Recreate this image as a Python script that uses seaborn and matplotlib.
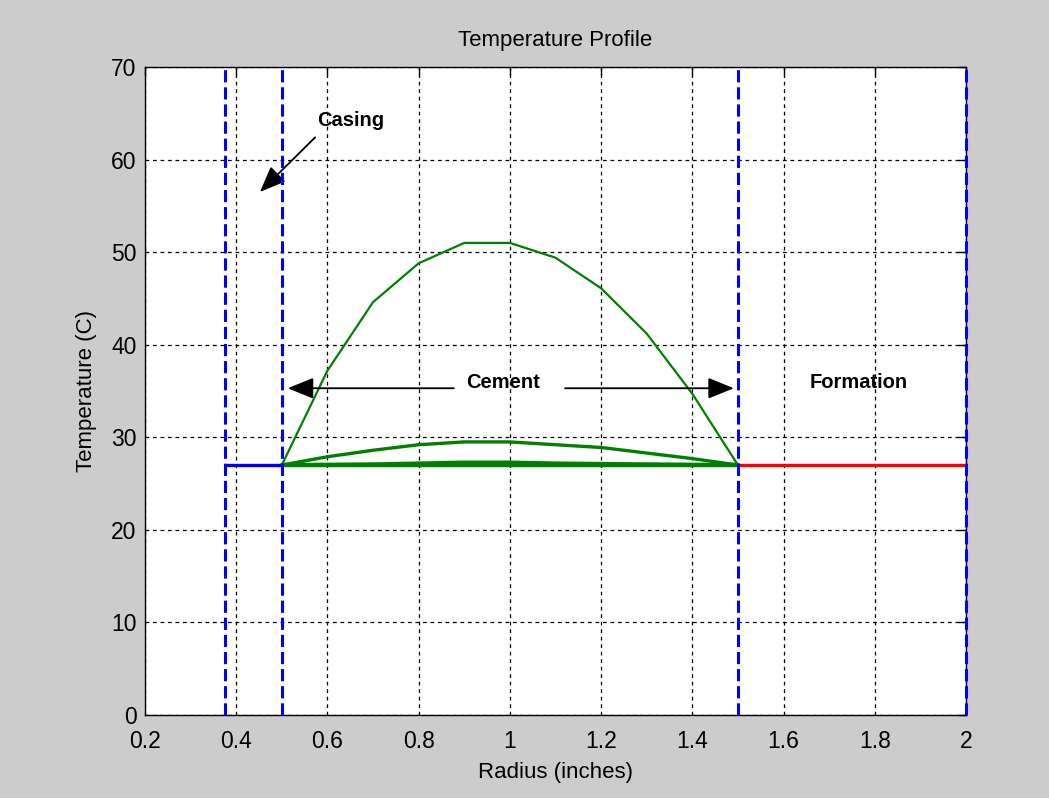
import numpy as np
import pandas as pd
import matplotlib
matplotlib.use("Agg")
import matplotlib.pyplot as plt
import seaborn as sns

# ---- data ----
radius_cement = [0.5, 0.6, 0.7, 0.8, 0.9, 1.0, 1.1, 1.2, 1.3, 1.4, 1.5]
temp_high = [27.0, 37.2, 44.6, 48.8, 51.0, 51.0, 49.4, 46.1, 41.2, 34.7, 27.0]
temp_mid = [27.0, 27.9, 28.6, 29.2, 29.5, 29.5, 29.2, 28.9, 28.3, 27.7, 27.0]
temp_low = [27.0, 27.05, 27.1, 27.2, 27.3, 27.3, 27.2, 27.15, 27.1, 27.05, 27.0]
temp_base = [27.0] * len(radius_cement)

radius_casing = [0.375, 0.5]
temp_casing = [27.0, 27.0]
radius_formation = [1.5, 2.0]
temp_formation = [27.0, 27.0]

boundaries = [0.375, 0.5, 1.5, 2.0]

xticks = [0.2, 0.4, 0.6, 0.8, 1.0, 1.2, 1.4, 1.6, 1.8, 2.0]
xticklabels = ["0.2", "0.4", "0.6", "0.8", "1", "1.2", "1.4", "1.6", "1.8", "2"]
yticks = [0, 10, 20, 30, 40, 50, 60, 70]

title = "Temperature Profile"
xlabel = "Radius (inches)"
ylabel = "Temperature (C)"

# ---- style ----
sns.set_style("white")
plt.rcParams["font.family"] = ["Liberation Sans", "DejaVu Sans"]
plt.rcParams["text.color"] = "black"
plt.rcParams["axes.labelcolor"] = "black"

fig = plt.figure(figsize=(10.49, 7.98), dpi=100, facecolor="#cccccc")
ax = fig.add_axes([0.1382, 0.1040, 0.9209 - 0.1382, 0.9160 - 0.1040])
ax.set_facecolor("white")

green = "#008000"
for vals, lw in [(temp_base, 3.2), (temp_low, 2.6), (temp_mid, 2.4), (temp_high, 1.6)]:
    sns.lineplot(x=radius_cement, y=vals, ax=ax, color=green, lw=lw, estimator=None, sort=False)

sns.lineplot(x=radius_casing, y=temp_casing, ax=ax, color="#0000ff", lw=2.4, estimator=None)
sns.lineplot(x=radius_formation, y=temp_formation, ax=ax, color="#ff0000", lw=2.4, estimator=None)

for b in boundaries:
    ax.axvline(b, color="#0000ff", lw=2.2, linestyle=(0, (4, 1.6)), zorder=5, clip_on=False)

ax.set_xlim(0.2, 2.0)
ax.set_ylim(0, 70)
ax.set_xticks(xticks)
ax.set_xticklabels(xticklabels)
ax.set_yticks(yticks)
ax.grid(True, color="black", lw=0.9, linestyle=(0, (3, 3)))
ax.set_axisbelow(True)
ax.tick_params(direction="in", length=6, width=1, top=True, right=True,
               labelsize=16.5, colors="black")
ax.tick_params(axis="x", pad=11)
ax.tick_params(axis="y", pad=6)
for s in ax.spines.values():
    s.set_visible(True)
    s.set_color("black")
    s.set_linewidth(1.0)

ax.set_title(title, fontsize=16, pad=15, color="black")
ax.set_xlabel(xlabel, fontsize=16, labelpad=6, color="black")
ax.set_ylabel(ylabel, fontsize=16, labelpad=10, color="black")

# annotations
arrowprops = dict(arrowstyle="-|>,head_length=1.6,head_width=0.65", color="black", lw=1.3,
                  shrinkA=0, shrinkB=0)
ax.text(0.652, 64.2, "Casing", fontsize=14.5, fontweight="bold", ha="center", va="center", color="black")
ax.annotate("", xy=(0.452, 56.5), xytext=(0.573, 62.4), arrowprops=arrowprops)
ax.text(0.985, 35.9, "Cement", fontsize=14.5, fontweight="bold", ha="center", va="center", color="black")
ax.annotate("", xy=(0.513, 35.3), xytext=(0.877, 35.3), arrowprops=arrowprops)
ax.annotate("", xy=(1.491, 35.3), xytext=(1.121, 35.3), arrowprops=arrowprops)
ax.text(1.765, 35.9, "Formation", fontsize=14.5, fontweight="bold", ha="center", va="center", color="black")

fig.savefig("out.png", dpi=100, facecolor=fig.get_facecolor())
